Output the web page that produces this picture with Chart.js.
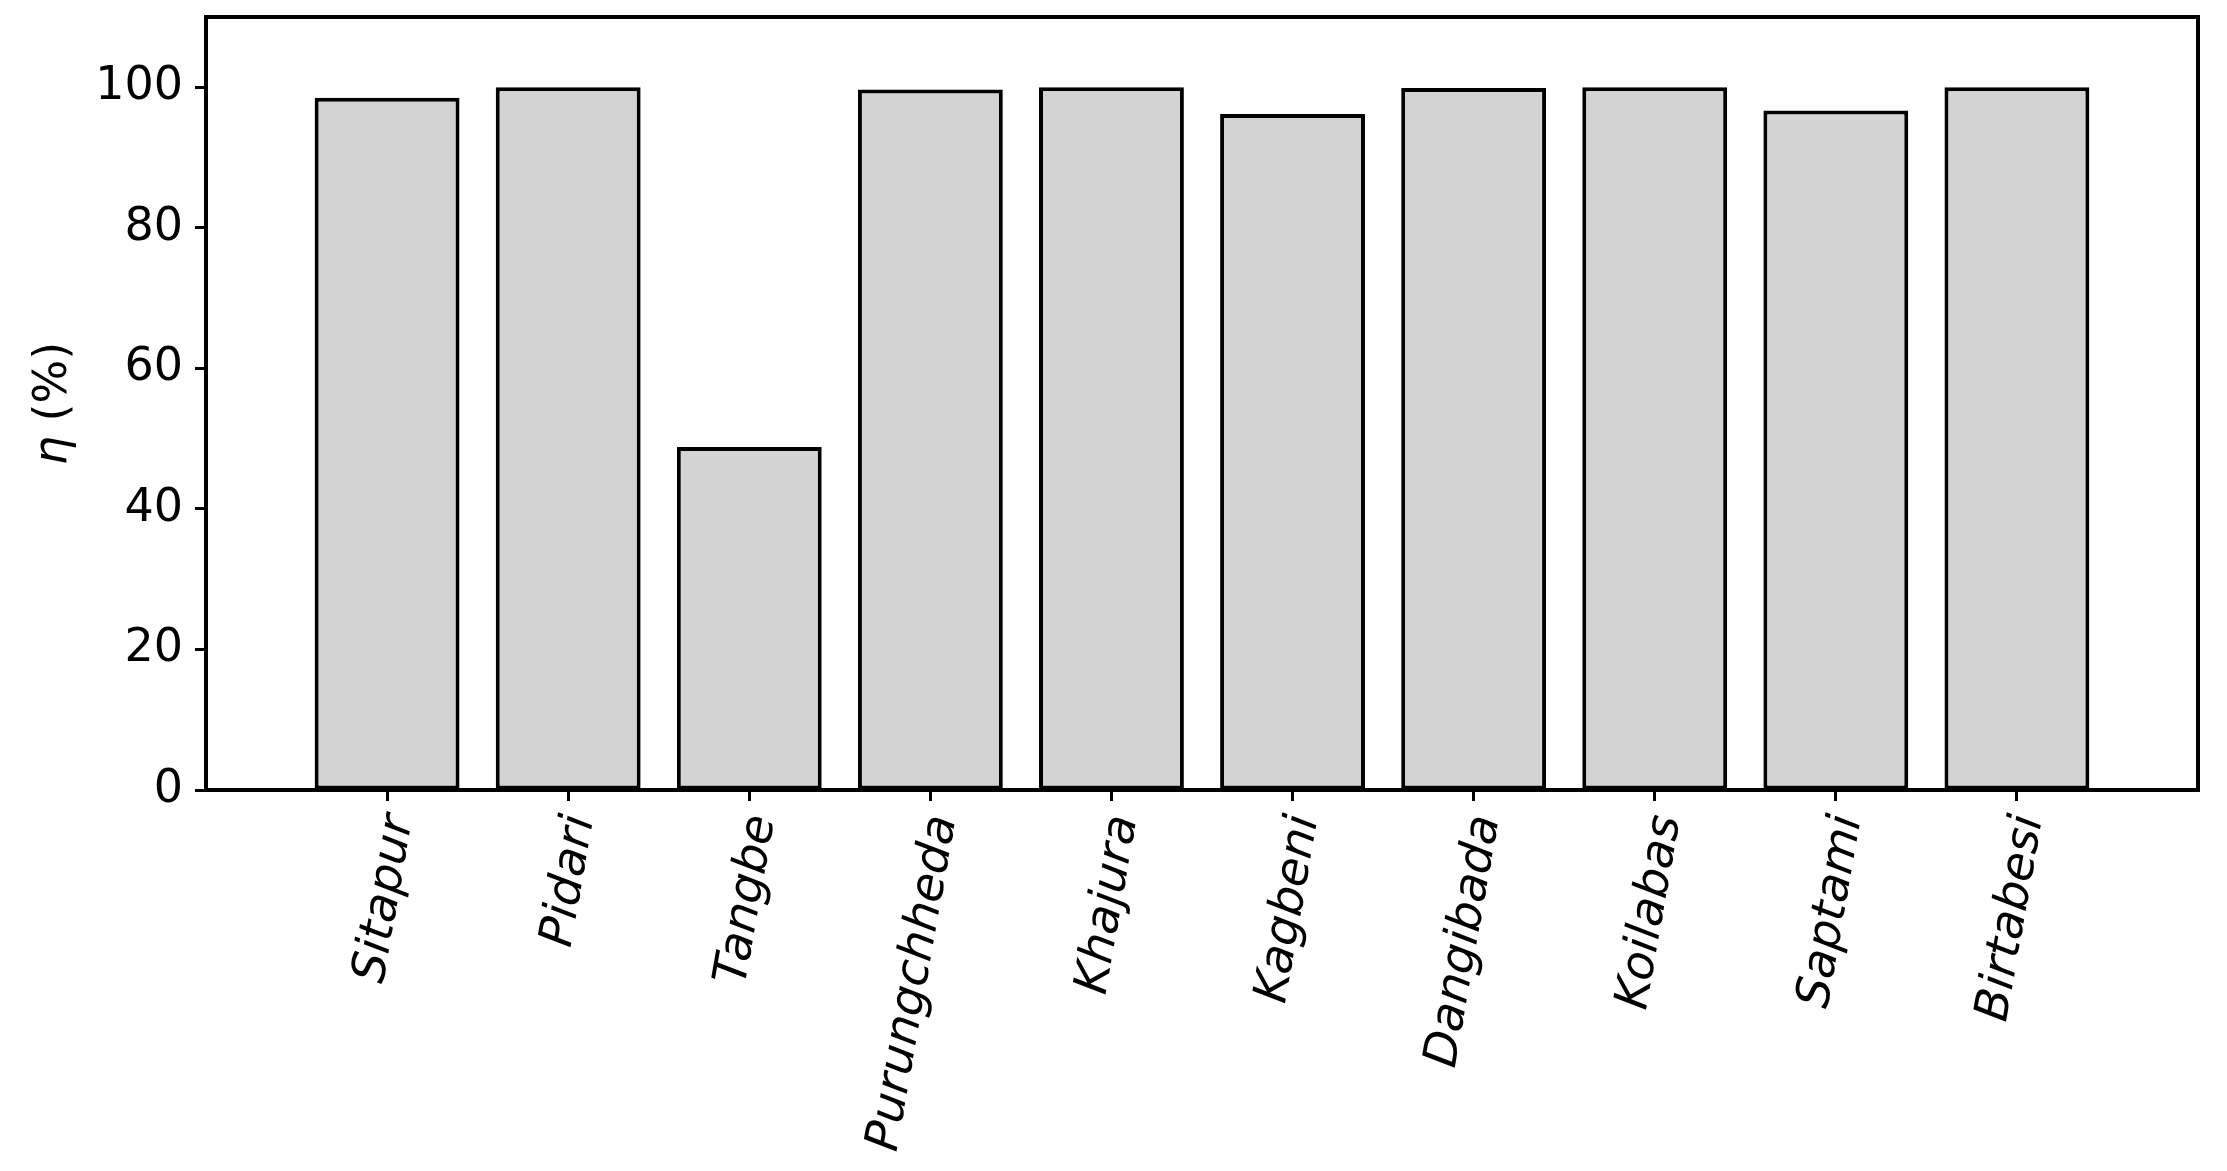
<!DOCTYPE html>
<html>
<head>
<meta charset="utf-8">
<script src="https://cdn.jsdelivr.net/npm/chart.js@4.4.1/dist/chart.umd.min.js"></script>
<style>
  html, body { margin: 0; padding: 0; background: #fff; }
  #wrap { width: 2227px; height: 1171px; position: relative; }
</style>
</head>
<body>
<div id="wrap"><canvas id="chart"></canvas></div>
<script>
// Sites (x categories) and efficiency values.
const sites = [
  "Sitapur", "Pidari", "Tangbe", "Purungchheda", "Khajura",
  "Kagbeni", "Dangibada", "Koilabas", "Saptami", "Birtabesi",
];
const eta = [98.5, 100, 48.8, 99.7, 100, 96.2, 99.9, 100, 96.7, 100];
const yTicks = [0, 20, 40, 60, 80, 100];
const yLabelMath = "η";
const yLabelRest = " (%)";

const FONT = "'DejaVu Sans', sans-serif";
const FS = 46;

// Full box around the plot plus the y label with an italic eta.
const frame = {
  id: "frame",
  afterDraw(chart) {
    const { ctx, chartArea: a } = chart;
    ctx.save();
    ctx.strokeStyle = "#000";
    ctx.lineWidth = 4;
    ctx.strokeRect(a.left, a.top, a.right - a.left, a.bottom - a.top);

    ctx.translate(54, (a.top + a.bottom) / 2);
    ctx.rotate(-Math.PI / 2);
    ctx.fillStyle = "#000";
    ctx.textBaseline = "middle";
    ctx.font = `italic ${FS}px ${FONT}`;
    const w1 = ctx.measureText(yLabelMath).width;
    ctx.font = `${FS}px ${FONT}`;
    const w2 = ctx.measureText(yLabelRest).width;
    let x = -(w1 + w2) / 2;
    ctx.textAlign = "left";
    ctx.font = `italic ${FS}px ${FONT}`;
    ctx.fillText(yLabelMath, x, 0);
    ctx.font = `${FS}px ${FONT}`;
    ctx.fillText(yLabelRest, x + w1, 0);
    ctx.restore();
  },
};

new Chart(document.getElementById("chart"), {
  type: "bar",
  data: {
    datasets: [{
      data: eta.map((v, i) => ({ x: i, y: v })),
      backgroundColor: "#d3d3d3",
      borderColor: "#000",
      borderWidth: 4,
      borderSkipped: false,
      barPercentage: 0.8,
      categoryPercentage: 1.0,
    }],
  },
  plugins: [frame],
  options: {
    responsive: true,
    maintainAspectRatio: false,
    animation: false,
    devicePixelRatio: 1,
    layout: { padding: { left: 0, top: 17, right: 29, bottom: 0 } },
    plugins: { legend: { display: false }, tooltip: { enabled: false } },
    scales: {
      x: {
        type: "linear",
        min: -1,
        max: 10,
        offset: false,
        afterBuildTicks: (axis) => { axis.ticks = sites.map((_, i) => ({ value: i })); },
        afterFit: (axis) => { axis.height = 1171 - 790; },
        grid: {
          offset: false,
          drawOnChartArea: false,
          tickLength: 11,
          tickWidth: 3,
          tickColor: "#000",
        },
        border: { display: false },
        ticks: {
          autoSkip: false,
          minRotation: 80,
          maxRotation: 80,
          padding: 10,
          labelOffset: 13,
          color: "#000",
          font: { family: FONT, size: 47, style: "italic" },
          callback: (v) => sites[v] ?? "",
        },
      },
      y: {
        min: 0,
        max: 110,
        afterBuildTicks: (axis) => { axis.ticks = yTicks.map((v) => ({ value: v })); },
        afterFit: (axis) => {
          axis.width = 206;
          axis.paddingTop = 0;
          axis.paddingBottom = 0;
        },
        grid: {
          drawOnChartArea: false,
          tickLength: 11,
          tickWidth: 3,
          tickColor: "#000",
        },
        border: { display: false },
        ticks: {
          padding: 12,
          color: "#000",
          font: { family: FONT, size: FS },
        },
      },
    },
  },
});
</script>
</body>
</html>
